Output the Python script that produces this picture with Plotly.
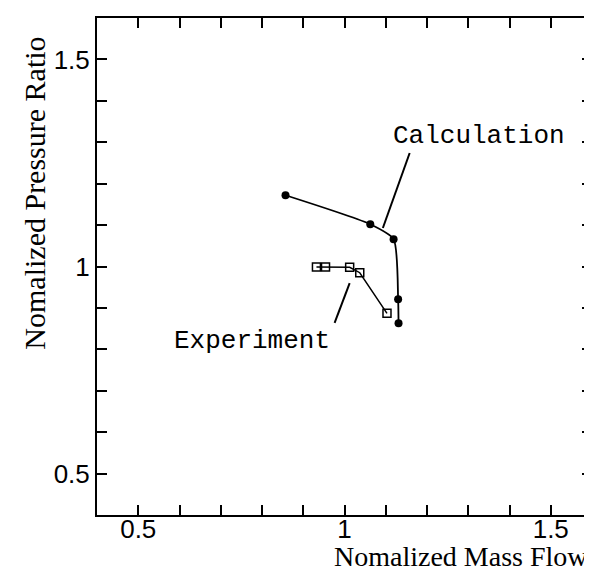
import plotly.graph_objects as go

calc_x = [0.857, 1.0625, 1.119, 1.13, 1.131]
calc_y = [1.172, 1.102, 1.066, 0.921, 0.863]
exp_x = [0.932, 0.954, 1.0125, 1.037, 1.103]
exp_y = [0.999, 0.999, 0.998, 0.985, 0.887]

tick_vals = [round(0.4 + 0.1 * i, 1) for i in range(13)]
tick_labels = {0.5: "0.5", 1.0: "1", 1.5: "1.5"}
tick_text = [tick_labels.get(v, "") for v in tick_vals]

fig = go.Figure()
fig.add_trace(go.Scatter(x=calc_x, y=calc_y, mode="lines+markers",
                         line=dict(color="black", width=1.8, shape="spline", smoothing=0.6),
                         marker=dict(symbol="circle", size=8, color="black"),
                         showlegend=False))
fig.add_trace(go.Scatter(x=exp_x, y=exp_y, mode="lines+markers",
                         line=dict(color="black", width=1.5),
                         marker=dict(symbol="square-open", size=8, color="black", line=dict(width=1.5)),
                         showlegend=False))

axis_common = dict(range=[0.4, 1.6], tickvals=tick_vals, ticktext=tick_text,
                   ticks="inside", ticklen=10, tickwidth=2, tickcolor="black",
                   showline=True, linecolor="black", linewidth=2, mirror="allticks",
                   showgrid=False, zeroline=False,
                   tickfont=dict(family="Liberation Sans, Arial", size=26, color="black"))
fig.update_xaxes(ticklabelstandoff=-10, **axis_common)
fig.update_yaxes(**axis_common)

fig.add_shape(type="line", x0=1.158, y0=1.274, x1=1.093, y1=1.093,
              line=dict(color="black", width=2))
fig.add_shape(type="line", x0=1.0125, y0=0.960, x1=0.976, y1=0.864,
              line=dict(color="black", width=2))

fig.add_annotation(x=1.325, y=1.315, text="Calculation", showarrow=False,
                   font=dict(family="Liberation Mono, Courier New", size=26, color="black"))
fig.add_annotation(x=0.775, y=0.820, text="Experiment", showarrow=False,
                   font=dict(family="Liberation Mono, Courier New", size=26, color="black"))

fig.add_annotation(xref="paper", yref="paper", x=0.996, y=-0.1187, xanchor="right", yanchor="bottom",
                   text="Nomalized Mass Flow", showarrow=False,
                   font=dict(family="Liberation Serif, Times New Roman", size=28, color="black"))
fig.add_annotation(xref="paper", yref="paper", x=-0.1268, y=0.647, xanchor="center", yanchor="middle",
                   text="Nomalized Pressure Ratio", showarrow=False, textangle=-90,
                   font=dict(family="Liberation Serif, Times New Roman", size=30, color="black"))

fig.update_layout(width=592, height=569, margin=dict(l=89, r=6, t=10, b=62),
                  plot_bgcolor="white", paper_bgcolor="white")
fig.write_html("out.html")
